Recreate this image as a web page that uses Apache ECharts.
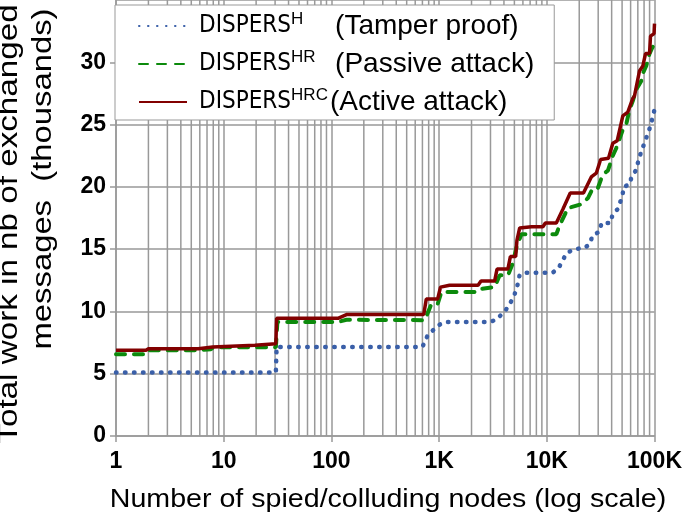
<!DOCTYPE html>
<html>
<head>
<meta charset="utf-8">
<script src="https://cdn.jsdelivr.net/npm/echarts@6/dist/echarts.min.js"></script>
<style>
html, body { margin: 0; padding: 0; background: #fff; }
#main { width: 685px; height: 520px; }
</style>
</head>
<body>
<div id="main"></div>
<script>
// curves: [spied nodes, total work (thousands of messages)]
var tamperProof = [[1, 5.1], [30.5, 5.1], [31, 7.15], [700, 7.15], [785, 8.1], [990, 8.9], [1130, 9.15], [2950, 9.15],
  [3420, 9.35], [4150, 10.1], [4820, 11.0], [5250, 11.8], [5600, 12.95], [6500, 13.1], [11300, 13.1], [12900, 13.5],
  [15300, 14.7], [18100, 15.0], [22400, 15.1], [25000, 15.4], [26600, 16.1], [30900, 16.4], [32200, 17.1], [39100, 17.1],
  [40800, 17.8], [45400, 18.2], [50500, 19.3], [51600, 20.0], [58700, 20.2], [61200, 20.8], [68100, 21.4], [71100, 22.2],
  [77400, 23.1], [84400, 24.0], [91900, 24.9], [100000, 26.2]]
var passiveAttack = [[1, 6.56], [1.9, 6.56], [2, 6.88], [5.8, 6.88], [6, 6.97], [7.6, 6.97], [8, 7.12], [30.5, 7.12],
  [31.5, 9.15], [115, 9.15], [138, 9.33], [735, 9.3], [850, 10.6], [970, 10.6], [1050, 11.55], [2220, 11.55],
  [2400, 11.8], [3280, 11.95], [3650, 12.9], [4360, 12.9], [4850, 13.9], [5210, 15.1], [5800, 16.2], [12250, 16.2],
  [13150, 16.9], [15700, 18.3], [20900, 18.6], [24100, 19.1], [26800, 19.9], [29800, 19.9], [33100, 21.0], [36900, 21.3],
  [41000, 22.5], [44100, 23.1], [50800, 24.6], [54600, 25.0], [58600, 26.2], [62900, 26.9], [67600, 27.8], [75300, 28.5],
  [77900, 29.1], [83700, 29.7], [89900, 30.7], [94400, 31.1], [100000, 31.5]]
var activeAttack = [[1, 6.88], [1.9, 6.88], [2, 7.0], [5.8, 7.0], [6, 7.15], [7.9, 7.15], [8.1, 7.28], [19.5, 7.28],
  [20, 7.41], [30.5, 7.41], [31, 9.45], [115, 9.45], [138, 9.75], [720, 9.75], [760, 11.0], [970, 11.0], [1030, 11.95],
  [1250, 12.1], [2300, 12.1], [2450, 12.45], [3280, 12.45], [3450, 13.4], [4350, 13.4], [4590, 14.4], [5140, 14.4],
  [5280, 15.7], [5600, 16.7], [7200, 16.8], [9200, 16.8], [9700, 17.1], [12250, 17.1], [14100, 18.2], [16500, 19.5],
  [21900, 19.5], [25900, 20.8], [28800, 21.1], [31600, 22.2], [37400, 22.3], [41000, 23.5], [45000, 23.7], [50800, 25.7],
  [56500, 26.0], [62900, 27.1], [65200, 27.3], [72500, 29.3], [77900, 29.7], [82500, 30.7], [89900, 30.7], [91800, 32.1],
  [99000, 32.3], [100000, 33.1]]

var seriesSup = ['H', 'HR', 'HRC']
var seriesNote = ['(Tamper proof)', '(Passive attack)', '(Active attack)']
var xTickLabels = ['1', '10', '100', '1K', '10K', '100K']

// minor log gridlines 2..9 in every decade
var minorGrid = []
for (var d = 1; d < 100000; d *= 10) {
  for (var k = 2; k <= 9; k++) minorGrid.push([k * d, 0])
}

var names = seriesSup.map(function (s, i) { return 'DISPERS' + s + ' ' + seriesNote[i] })
var gridColor = '#999999'
var font = "'Liberation Sans', Arial, sans-serif"

var chart = echarts.init(document.getElementById('main'))
chart.setOption({
  animation: false,
  backgroundColor: '#fff',
  grid: { left: 116, right: 30, top: -1, bottom: 84, containLabel: false },
  legend: {
    data: names,
    orient: 'vertical',
    left: 115,
    top: 5,
    backgroundColor: '#fff',
    borderColor: gridColor,
    borderWidth: 1,
    borderRadius: 0,
    padding: [6, 20, 4, 23],
    itemWidth: 48,
    itemHeight: 14,
    itemGap: 9,
    selectedMode: false,
    itemStyle: { opacity: 0 },
    formatter: function (name) {
      var i = names.indexOf(name)
      var sup = i === 2 ? 's3' : 's'
      return '{n|DISPERS}{' + sup + '|' + seriesSup[i] + '}{p|' + seriesNote[i] + '}'
    },
    textStyle: {
      color: '#000',
      rich: {
        n: { fontFamily: "'DejaVu Sans Condensed', " + font, fontSize: 24, lineHeight: 30, color: '#000', padding: [0, 0, 0, 7] },
        s: { fontFamily: font, fontSize: 17, lineHeight: 16, verticalAlign: 'top', width: 42, color: '#000' },
        s3: { fontFamily: font, fontSize: 17, lineHeight: 16, verticalAlign: 'top', color: '#000' },
        p: { fontFamily: font, fontSize: 28, lineHeight: 30, color: '#000', padding: [0, 0, 0, 2] }
      }
    }
  },
  xAxis: {
    type: 'log',
    logBase: 10,
    min: 1,
    max: 100000,
    axisLine: { show: true, lineStyle: { color: gridColor, width: 1.5 } },
    axisTick: { show: true, length: 6, lineStyle: { color: gridColor, width: 1.5 } },
    axisLabel: {
      margin: 14,
      fontFamily: font,
      fontSize: 23,
      fontWeight: 'bold',
      color: '#000',
      formatter: function (v) { return xTickLabels[Math.round(Math.log10(v))] }
    },
    splitLine: { show: true, lineStyle: { color: gridColor, width: 1.5 } }
  },
  yAxis: {
    type: 'value',
    min: 0,
    max: 35,
    interval: 5,
    axisLine: { show: true, lineStyle: { color: gridColor, width: 1.5 } },
    axisTick: { show: true, length: 6, lineStyle: { color: gridColor, width: 1.5 } },
    axisLabel: {
      margin: 10,
      fontFamily: font,
      fontSize: 23,
      fontWeight: 'bold',
      color: '#000',
      showMaxLabel: false
    },
    splitLine: { show: true, lineStyle: { color: gridColor, width: 1.5 } }
  },
  graphic: [
    {
      type: 'text', x: 10, y: 224, rotation: Math.PI / 2, scaleX: 1.23,
      style: { text: 'Total work in nb of exchanged', fontFamily: font, fontSize: 27, fill: '#000', align: 'center', verticalAlign: 'middle' }
    },
    {
      type: 'text', x: 44, y: 179, rotation: Math.PI / 2, scaleX: 1.215,
      style: { text: 'messages  (thousands)', fontFamily: font, fontSize: 27, fill: '#000', align: 'center', verticalAlign: 'middle' }
    },
    {
      type: 'text', x: 388, y: 500, scaleX: 1.1,
      style: { text: 'Number of spied/colluding nodes (log scale)', fontFamily: font, fontSize: 26, fill: '#000', align: 'center', verticalAlign: 'middle' }
    }
  ],
  series: [
    {
      type: 'custom',
      silent: true,
      z: 1,
      data: minorGrid,
      renderItem: function (params, api) {
        var top = api.coord([api.value(0), 35])
        var bot = api.coord([api.value(0), 0])
        return {
          type: 'line',
          shape: { x1: top[0], y1: top[1], x2: bot[0], y2: bot[1] },
          style: { stroke: gridColor, lineWidth: 1.5 }
        }
      }
    },
    {
      name: names[0],
      type: 'line',
      data: tamperProof,
      symbol: 'none',
      lineStyle: { color: '#3a5fa8', width: 4.5, type: [0.5, 8.5], cap: 'round' },
      itemStyle: { color: '#3a5fa8' }
    },
    {
      name: names[1],
      type: 'line',
      data: passiveAttack,
      symbol: 'none',
      lineStyle: { color: '#0c8a0c', width: 4, type: [9, 9], cap: 'round' },
      itemStyle: { color: '#0c8a0c' }
    },
    {
      name: names[2],
      type: 'line',
      data: activeAttack,
      symbol: 'none',
      lineStyle: { color: '#820000', width: 3.5 },
      itemStyle: { color: '#820000' }
    }
  ]
})
</script>
</body>
</html>
